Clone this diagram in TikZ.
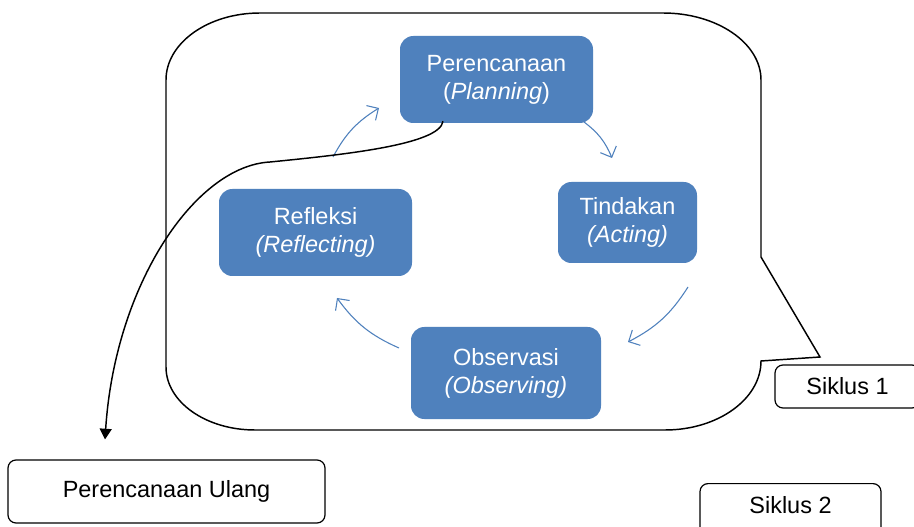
\documentclass[tikz,border=0pt]{standalone}
\usepackage{fontspec}
\setmainfont{Liberation Sans}
\usetikzlibrary{arrows.meta,calc}
\definecolor{sablue}{HTML}{4F81BD}
\begin{document}
\begin{tikzpicture}[x=0.75pt,y=-0.75pt,
  every node/.style={font=\fontsize{17.6}{21}\selectfont},
  bluebox/.style={rectangle, rounded corners=10pt, fill=sablue, text=white, align=center, inner sep=0pt},
  whitebox/.style={rectangle, rounded corners=6pt, draw=black, line width=0.9pt, fill=white, inner sep=0pt},
  cyclearrow/.style={draw=sablue, line width=0.8pt, -{Straight Barb[length=6.5pt,width=13pt]}},
  outline/.style={draw=black, line width=1.1pt}]
\clip (0,0) rectangle (914,527);
\fill[white] (0,0) rectangle (914,527);
% callout
\path[outline] (260,13) -- (663,13) .. controls (717,13) and (761,43) .. (761,80)
  -- (761,257) -- (820,357) -- (761,361)
  .. controls (761,399) and (718,430) .. (665,430)
  -- (255,430) .. controls (206,430) and (166,402) .. (166,367)
  -- (166,80) .. controls (166,43) and (208,13) .. (260,13) -- cycle;
% cycle nodes
\node[bluebox, minimum width=144.75pt, minimum height=65.25pt] (pl) at (496.5,79.5) {Perencanaan\\(\textit{Planning})};
\node[bluebox, minimum width=104.25pt, minimum height=60.75pt] (td) at (627.5,222.5) {Tindakan\\\textit{(Acting)}};
\node[bluebox, minimum width=142.5pt, minimum height=69pt] (ob) at (506,373) {Observasi\\\textit{(Observing)}};
\node[bluebox, minimum width=144.75pt, minimum height=65.25pt] (rf) at (315.5,232.5) {Refleksi\\\textit{(Reflecting)}};
% cycle arrows
\coordinate (a1s) at (333,157); \coordinate (a1e) at (379,108);
\coordinate (a2s) at (584,122); \coordinate (a2e) at (612,158);
\coordinate (a3s) at (688,287); \coordinate (a3e) at (628,342);
\coordinate (a4s) at (399,348); \coordinate (a4e) at (337,298);
\draw[cyclearrow] (a1s) to[bend left=15] (a1e);
\draw[cyclearrow] (a2s) to[bend left=15] (a2e);
\draw[cyclearrow] (a3s) to[bend left=15] (a3e);
\draw[cyclearrow] (a4s) to[bend left=15] (a4e);
% boxes
\node[whitebox, minimum width=237.75pt, minimum height=47.25pt] (pu) at (166.5,491.5) {Perencanaan Ulang};
\node[whitebox, minimum width=108.75pt, minimum height=32.25pt] (s1) at (847.5,386.5) {Siklus 1};
\node[whitebox, minimum width=135.75pt, anchor=north, text height=22.5pt, text depth=20pt] (s2) at (790.5,483) {Siklus 2};
% re-planning connector
\coordinate (reend) at ($(pu.north)+(-61.5,-20)$);
\draw[outline, -{Triangle[length=8pt,width=9pt]}] ($(pl.south)+(-53.5,-2)$)
  .. controls (440,145) and (340,155) .. (270,162)
  .. controls (195,166) and (115,285) .. (reend);
\end{tikzpicture}
\end{document}
